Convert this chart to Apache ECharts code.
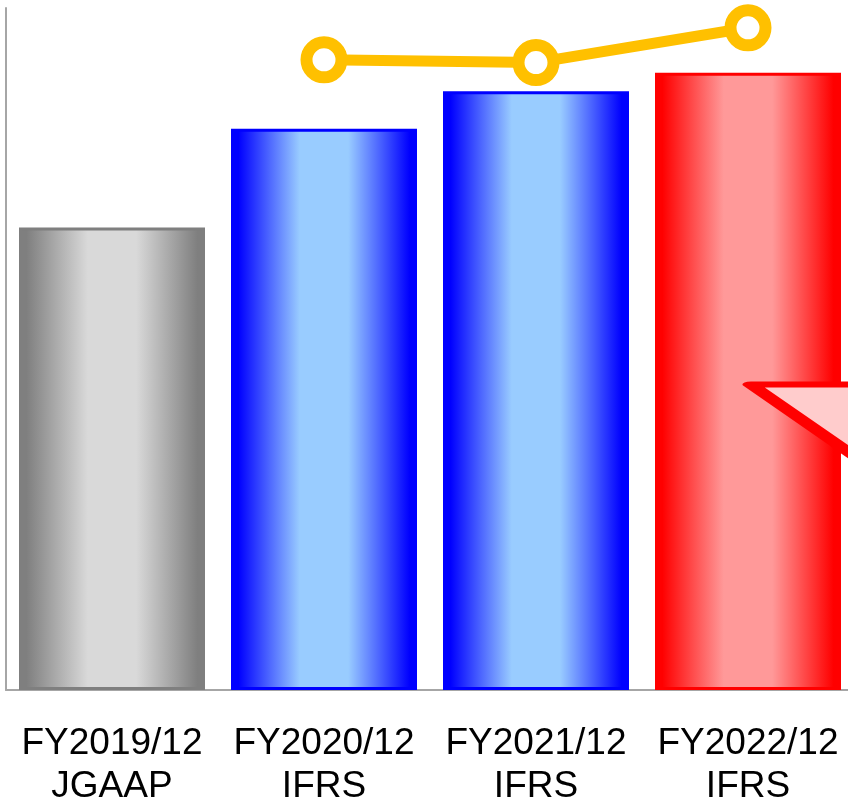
<!DOCTYPE html>
<html>
<head>
<meta charset="utf-8">
<script src="https://cdn.jsdelivr.net/npm/echarts@6/dist/echarts.min.js"></script>
<style>
  html, body { margin: 0; padding: 0; background: #ffffff; }
  #chart { width: 848px; height: 802px; }
</style>
</head>
<body>
<div id="chart"></div>
<script>
// Fiscal periods and accounting standards
const categories = ['FY2019/12\nJGAAP', 'FY2020/12\nIFRS', 'FY2021/12\nIFRS', 'FY2022/12\nIFRS'];
// Bar values (left axis, 0-100 scale)
const barValues = [67.8, 82.3, 87.8, 90.5];
// Line values (right axis, 0-100 scale); first period has no point
const lineValues = [null, 92.4, 92.0, 97.1];
// Level of the callout triangle on the latest period
const calloutLevel = 44.8;

// Horizontal "cylinder" shading: dark edges, light centre
function shade(edge, light) {
  return {
    type: 'linear', x: 0, y: 0, x2: 1, y2: 0,
    colorStops: [
      { offset: 0, color: edge },
      { offset: 0.04, color: edge },
      { offset: 0.37, color: light },
      { offset: 0.63, color: light },
      { offset: 0.96, color: edge },
      { offset: 1, color: edge }
    ]
  };
}

const barStyles = [
  { color: shade('#7f7f7f', '#d9d9d9'), borderColor: '#7f7f7f' },
  { color: shade('#0000ff', '#99ccff'), borderColor: '#0000ff' },
  { color: shade('#0000ff', '#99ccff'), borderColor: '#0000ff' },
  { color: shade('#ff0000', '#ff9999'), borderColor: '#ff0000' }
];

const chart = echarts.init(document.getElementById('chart'));
chart.setOption({
  animation: false,
  grid: {
    left: 6, top: 8, width: 848, height: 682,
    containLabel: false,
    outerBoundsMode: 'none'
  },
  xAxis: {
    type: 'category',
    data: categories,
    axisLine: { show: true, lineStyle: { color: '#a6a6a6', width: 2 } },
    axisTick: { show: false },
    axisLabel: {
      interval: 0,
      margin: 32,
      color: '#000000',
      fontFamily: 'Liberation Sans, Arial, sans-serif',
      fontSize: 37,
      lineHeight: 43
    }
  },
  yAxis: [
    {
      type: 'value', min: 0, max: 100,
      axisLine: { show: true, lineStyle: { color: '#a6a6a6', width: 2 } },
      axisTick: { show: false },
      axisLabel: { show: false },
      splitLine: { show: false }
    },
    {
      type: 'value', min: 0, max: 100, position: 'right',
      axisLine: { show: false },
      axisTick: { show: false },
      axisLabel: { show: false },
      splitLine: { show: false }
    }
  ],
  series: [
    {
      type: 'bar',
      barWidth: 186,
      data: barValues.map((v, i) => ({
        value: v,
        itemStyle: {
          color: barStyles[i].color,
          borderColor: barStyles[i].borderColor,
          borderWidth: 3
        }
      })),
      markPoint: {
        silent: true,
        label: { show: false },
        data: [{
          coord: [3, calloutLevel],
          symbol: 'path://M0,0L260,0L130,90Z',
          symbolSize: [260, 90],
          symbolKeepAspect: false,
          symbolOffset: [133, 45],
          itemStyle: {
            color: '#ffcccc',
            borderColor: '#ff0000',
            borderWidth: 10,
            borderJoin: 'round'
          }
        }]
      }
    },
    {
      type: 'line',
      yAxisIndex: 1,
      data: lineValues,
      connectNulls: false,
      symbol: 'circle',
      symbolSize: 35,
      lineStyle: { color: '#ffc000', width: 11 },
      itemStyle: { color: '#ffffff', borderColor: '#ffc000', borderWidth: 12 },
      z: 5
    }
  ]
});
</script>
</body>
</html>
